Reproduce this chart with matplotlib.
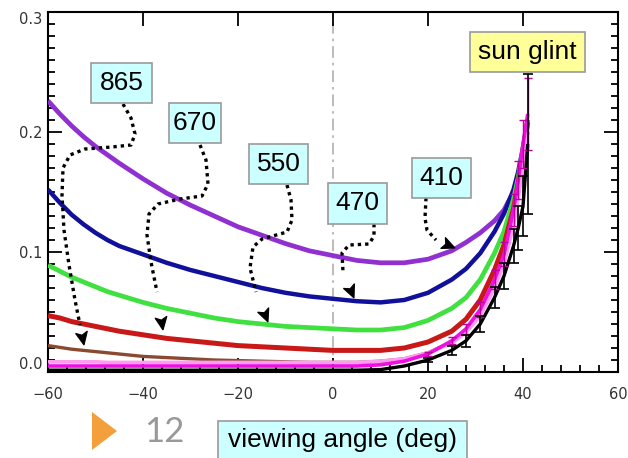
import matplotlib
matplotlib.use("Agg")
import matplotlib.pyplot as plt
from matplotlib.patches import Rectangle, Polygon
from matplotlib.lines import Line2D
import numpy as np

# ---------------- data ----------------
angles = [-60, -57.5, -55, -52.5, -50, -47.5, -45, -40, -35, -30, -25, -20, -15, -10, -5, 0,
          5, 10, 15, 20, 25, 28, 31, 34, 36, 38, 39, 40, 41]

refl_410 = [0.226, 0.215, 0.205, 0.196, 0.188, 0.181, 0.174, 0.161, 0.149, 0.139, 0.130, 0.121,
            0.114, 0.107, 0.101, 0.097, 0.093, 0.091, 0.091, 0.094, 0.101, 0.108, 0.116, 0.126,
            0.135, 0.150, 0.162, 0.182, 0.210]
refl_470 = [0.152, 0.141, 0.131, 0.123, 0.116, 0.110, 0.105, 0.098, 0.091, 0.085, 0.080, 0.075,
            0.070, 0.066, 0.063, 0.061, 0.059, 0.058, 0.060, 0.066, 0.077, 0.086, 0.099, 0.117,
            0.132, 0.152, 0.167, 0.187, 0.210]
refl_550 = [0.089, 0.084, 0.079, 0.075, 0.071, 0.067, 0.064, 0.058, 0.053, 0.049, 0.045, 0.042,
            0.040, 0.038, 0.037, 0.036, 0.035, 0.035, 0.037, 0.043, 0.053, 0.062, 0.077, 0.099,
            0.117, 0.144, 0.162, 0.186, 0.210]
refl_670 = [0.047, 0.045, 0.042, 0.040, 0.038, 0.036, 0.034, 0.031, 0.028, 0.026, 0.024, 0.022,
            0.021, 0.020, 0.019, 0.018, 0.018, 0.018, 0.020, 0.025, 0.034, 0.044, 0.060, 0.085,
            0.106, 0.136, 0.158, 0.184, 0.208]
refl_865 = [0.022, 0.0205, 0.019, 0.018, 0.017, 0.016, 0.015, 0.013, 0.012, 0.011, 0.010, 0.0095,
            0.009, 0.0085, 0.008, 0.008, 0.008, 0.009, 0.011, 0.016, 0.025, 0.035, 0.051, 0.076,
            0.096, 0.126, 0.148, 0.176, 0.200]
refl_pink = [0.0085, 0.0085, 0.0085, 0.0085, 0.0085, 0.008, 0.008, 0.008, 0.008, 0.008, 0.008,
             0.008, 0.008, 0.008, 0.008, 0.008, 0.008, 0.009, 0.011, 0.016, 0.024, 0.033, 0.047,
             0.070, 0.090, 0.122, 0.145, 0.172, 0.200]
refl_magenta = [0.005, 0.005, 0.005, 0.005, 0.005, 0.005, 0.005, 0.005, 0.005, 0.005, 0.005,
                0.005, 0.005, 0.005, 0.005, 0.005, 0.005, 0.006, 0.009, 0.015, 0.026, 0.036,
                0.052, 0.077, 0.098, 0.135, 0.160, 0.190, 0.215]
err_magenta = [0, 0, 0, 0, 0, 0, 0, 0, 0, 0, 0, 0, 0, 0, 0, 0, 0, 0, 0,
               0.002, 0.003, 0.004, 0.006, 0.008, 0.010, 0.013, 0.016, 0.020, 0.030]
refl_black = [0.0015, 0.0015, 0.0015, 0.0015, 0.0015, 0.0015, 0.0015, 0.0015, 0.0015, 0.0015,
              0.0015, 0.0015, 0.0015, 0.0015, 0.0015, 0.0015, 0.0015, 0.002, 0.005, 0.010,
              0.018, 0.026, 0.040, 0.062, 0.080, 0.105, 0.120, 0.138, 0.190]
err_black = [0, 0, 0, 0, 0, 0, 0, 0, 0, 0, 0, 0, 0, 0, 0, 0, 0, 0, 0,
             0.002, 0.004, 0.005, 0.007, 0.009, 0.011, 0.014, 0.018, 0.025, 0.058]

x_ticks = [-60, -40, -20, 0, 20, 40, 60]
y_ticks = [0.0, 0.1, 0.2, 0.3]
y_ticklabels = ["0.0", "0.1", "0.2", "0.3"]
labels_wl = ["865", "670", "550", "470", "410"]

# ---------------- figure ----------------
W, H = 628, 458
fig = plt.figure(figsize=(W / 100, H / 100), dpi=100)
fig.patch.set_facecolor("white")


def fx(x):
    return x / W


def fy(y):
    return 1 - y / H


ax = fig.add_axes([fx(48), fy(372), 570 / W, 360 / H])
ax.set_xlim(-60, 60)
ax.set_ylim(0, 0.3)

ax.axvline(0, color="#b0b0b0", lw=1.2, ls=(0, (7, 3, 1.5, 3)), zorder=1)

series = [
    (refl_410, "#9030d0", 3.4),
    (refl_470, "#10109a", 3.2),
    (refl_550, "#40e040", 3.4),
    (refl_670, "#c81818", 3.6),
    (refl_865, "#8a4a30", 2.4),
    (refl_pink, "#ff9cf0", 2.6),
    (refl_magenta, "#ee10e0", 2.6),
    (refl_black, "#000000", 2.4),
]
for vals, col, lw in series:
    ax.plot(angles, vals, color=col, lw=lw, solid_capstyle="butt",
            solid_joinstyle="round", zorder=3)

start = 19
ax.errorbar(angles[start:], refl_magenta[start:], yerr=err_magenta[start:], fmt="none",
            ecolor="#c000a0", elinewidth=1.0, capsize=3, capthick=1.0, zorder=4)
ax.errorbar(angles[start:], refl_black[start:], yerr=err_black[start:], fmt="none",
            ecolor="#000000", elinewidth=1.2, capsize=3.5, capthick=1.2, zorder=5)

ax.set_xticks(x_ticks)
ax.set_xticks(np.arange(-60, 61, 4), minor=True)
ax.set_yticks(y_ticks)
ax.set_yticklabels(y_ticklabels)
ax.set_yticks(np.arange(0, 0.301, 0.01), minor=True)
ax.tick_params(which="both", direction="in", top=True, right=True, colors="black",
               labelcolor="#333333", labelsize=10.5, width=1.3)
ax.tick_params(which="major", length=10)
ax.tick_params(which="minor", length=5)
ax.tick_params(axis="x", which="minor", top=False)
ax.tick_params(axis="x", which="major", pad=11)
ax.tick_params(axis="y", which="major", pad=4)
ylabels = ax.get_yticklabels()
ylabels[0].set_va("bottom")
ylabels[-1].set_va("top")
for s in ax.spines.values():
    s.set_linewidth(1.5)

# ---------------- annotations ----------------
FONT = "Liberation Sans"


def box(x0, y0, x1, y1, text, fc, fs=19):
    fig.patches.append(Rectangle((fx(x0), fy(y1)), (x1 - x0) / W, (y1 - y0) / H,
                                 transform=fig.transFigure, fc=fc, ec="#9a9a9a", lw=1.2,
                                 zorder=10))
    fig.text(fx((x0 + x1) / 2), fy((y0 + y1) / 2), text, ha="center", va="center",
             fontsize=fs, family=FONT, color="black", zorder=11)


def arrow(points):
    xs = [fx(p[0]) for p in points]
    ys = [fy(p[1]) for p in points]
    fig.lines.append(Line2D(xs[:-1], ys[:-1], transform=fig.transFigure, color="black",
                            lw=2.4, ls=(0, (1, 1.2)), zorder=9))
    (xa, ya), (xb, yb) = points[-2], points[-1]
    d = np.array([xb - xa, yb - ya], float)
    d /= np.hypot(*d)
    n = np.array([-d[1], d[0]])
    tip = np.array([xb, yb], float)
    base = tip - d * 13
    p1 = base + n * 6
    p2 = base - n * 6
    pts = [(fx(p[0]), fy(p[1])) for p in (tip, p1, base + d * 3, p2)]
    fig.patches.append(Polygon(pts, closed=True, transform=fig.transFigure, fc="black",
                               ec="black", lw=0.8, zorder=9))


arrow([(123, 104), (131, 118), (135, 134), (131, 145), (112, 147), (85, 149), (70, 155),
       (63, 168), (62, 195), (64, 230), (69, 265), (75, 300), (80, 325), (84, 345)])
arrow([(200, 145), (206, 160), (208, 184), (202, 196), (180, 199), (158, 204), (149, 214),
       (147, 235), (151, 262), (157, 292), (163, 330)])
arrow([(287, 185), (291, 200), (292, 220), (287, 232), (262, 239), (253, 247), (250, 268),
       (256, 292), (268, 322)])
arrow([(374, 224), (374, 236), (369, 244), (349, 245), (342, 253), (343, 272), (354, 298)])
arrow([(426, 198), (425, 218), (427, 230), (436, 240), (455, 248)])

box(91, 63, 152, 103, labels_wl[0], "#ccffff")
box(169, 103, 221, 143, labels_wl[1], "#ccffff")
box(249, 144, 308, 184, labels_wl[2], "#ccffff")
box(328, 183, 387, 224, labels_wl[3], "#ccffff")
box(412, 158, 471, 198, labels_wl[4], "#ccffff")
box(470, 32, 585, 72, "sun glint", "#ffff99")

# x-axis title box (extends off the bottom of the slide)
fig.patches.append(Rectangle((fx(218), fy(470)), 249 / W, 49 / H, transform=fig.transFigure,
                             fc="#ccffff", ec="#9a9a9a", lw=1.2, zorder=10))
fig.text(fx(342), fy(447), "viewing angle (deg)", ha="center", va="baseline",
         fontsize=19, family=FONT, color="black", zorder=11)

# slide decorations
fig.patches.append(Polygon([(fx(92), fy(412)), (fx(117), fy(431)), (fx(92), fy(450))],
                           closed=True, transform=fig.transFigure, fc="#f3a03c", ec="none"))
fig.text(fx(164), fy(442), "12", ha="center", va="baseline", fontsize=25,
         family="Lato", color="#999999")

fig.savefig("out.png", dpi=100)
